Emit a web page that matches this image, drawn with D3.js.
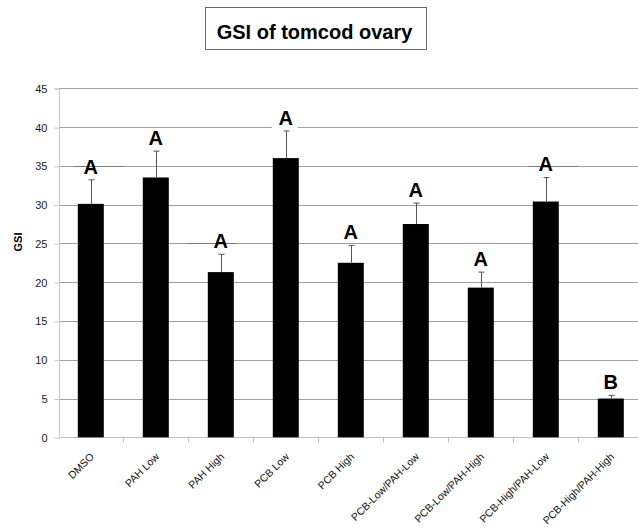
<!DOCTYPE html>
<html>
<head>
<meta charset="utf-8">
<script src="https://cdn.jsdelivr.net/npm/d3@7"></script>
<style>
  html, body { margin: 0; padding: 0; background: #fff; }
  svg { display: block; font-family: "Liberation Sans", Arial, sans-serif; }
</style>
</head>
<body>
<svg id="chart" width="638" height="530"></svg>
<script>
// Gonadosomatic index of tomcod ovary by treatment group
const categories = ["DMSO", "PAH Low", "PAH High", "PCB Low", "PCB High",
  "PCB-Low/PAH-Low", "PCB-Low/PAH-High", "PCB-High/PAH-Low", "PCB-High/PAH-High"];
const gsiMean = [30.1, 33.5, 21.3, 36.0, 22.5, 27.5, 19.3, 30.4, 5.0];
const gsiError = [3.1, 3.4, 2.3, 3.5, 2.25, 2.7, 2.0, 3.1, 0.4];
const groupLetters = ["A", "A", "A", "A", "A", "A", "A", "A", "B"];
const yTicks = [0, 5, 10, 15, 20, 25, 30, 35, 40, 45];
const chartTitle = "GSI of tomcod ovary";
const yTitle = "GSI";

const svg = d3.select("#chart");

const x = d3.scaleBand().domain(categories).range([58.3, 643.3]).paddingInner(0.6).paddingOuter(0.3);
const band = d3.scaleBand().domain(categories).range([58.3, 643.3]);
const y = d3.scaleLinear().domain([0, 45]).range([437.3, 88.3]);

// Title box
const titleG = svg.append("g");
titleG.append("rect")
  .attr("x", 205.5).attr("y", 7.5).attr("width", 221).attr("height", 42)
  .attr("fill", "#fff").attr("stroke", "#6a6a6a").attr("stroke-width", 1);
titleG.append("text")
  .attr("x", 314.5).attr("y", 39)
  .attr("text-anchor", "middle")
  .attr("font-size", 20).attr("font-weight", "bold").attr("fill", "#000")
  .text(chartTitle);

// Horizontal gridlines
svg.append("g")
  .selectAll("line")
  .data(yTicks.filter(d => d > 0))
  .join("line")
  .attr("x1", 59).attr("x2", 638)
  .attr("y1", d => Math.round(y(d)) + 0.5).attr("y2", d => Math.round(y(d)) + 0.5)
  .attr("stroke", "#a0a0a0").attr("stroke-width", 1);

// Y axis
const yAxis = d3.axisLeft(y).tickValues(yTicks).tickSize(5).tickPadding(7)
  .tickFormat(d3.format("d"));
const yG = svg.append("g").attr("transform", "translate(59.5,0.5)").call(yAxis);
yG.select(".domain").attr("stroke", "#c8c8c8").attr("d", `M-5,${y(45)}H0V${y(0)}`);
yG.selectAll(".tick line").attr("stroke", "#c8c8c8");
yG.selectAll(".tick text").attr("font-size", 11).attr("fill", "#222")
  .attr("font-family", "Liberation Sans, Arial, sans-serif");

// Y axis title
svg.append("text")
  .attr("transform", "translate(22,242) rotate(-90)")
  .attr("text-anchor", "middle")
  .attr("font-size", 11).attr("font-weight", "bold").attr("fill", "#000")
  .text(yTitle);

// X axis baseline and boundary ticks
const xAxis = d3.axisBottom(band).tickSize(0).tickFormat("");
const xG = svg.append("g").attr("transform", `translate(0,${Math.round(y(0)) + 0.5})`).call(xAxis);
xG.select(".domain").attr("stroke", "#c0c0c0").attr("d", "M59,0H638");
xG.selectAll(".tick").remove();
xG.selectAll("line.boundary")
  .data(categories.slice(1))
  .join("line")
  .attr("class", "boundary")
  .attr("x1", d => Math.round(band(d)) + 0.5).attr("x2", d => Math.round(band(d)) + 0.5)
  .attr("y1", 0).attr("y2", 5)
  .attr("stroke", "#c0c0c0");

// Category labels, slanted at 45 degrees
const labelG = svg.append("g")
  .selectAll("g")
  .data(categories)
  .join("g")
  .attr("transform", d => `translate(${band(d) + band.bandwidth() / 2 + 4},${y(0) + 20})`);
labelG.append("text")
  .attr("transform", "rotate(-45)")
  .attr("text-anchor", "end")
  .attr("font-size", 10.5).attr("fill", "#111")
  .text(d => d);

// Bars
svg.append("g")
  .selectAll("rect")
  .data(categories)
  .join("rect")
  .attr("x", d => x(d))
  .attr("width", x.bandwidth())
  .attr("y", (d, i) => y(gsiMean[i]))
  .attr("height", (d, i) => y(0) - y(gsiMean[i]))
  .attr("fill", "#000");

// Error bars (upper)
const errG = svg.append("g").attr("stroke", "#555").attr("stroke-width", 1);
categories.forEach((c, i) => {
  const cx = Math.round(x(c) + x.bandwidth() / 2) + 0.5;
  const top = y(gsiMean[i] + gsiError[i]);
  errG.append("line").attr("x1", cx).attr("x2", cx)
    .attr("y1", y(gsiMean[i])).attr("y2", top);
  errG.append("line").attr("x1", cx - 3).attr("x2", cx + 3)
    .attr("y1", top).attr("y2", top);
});

// Label underlines and masks where letters sit on gridlines
const labelRules = [
  { i: 0, v: 35, dx0: -17, dx1: 33, kind: "rule" },
  { i: 2, v: 25, dx0: -34, dx1: 17, kind: "rule" },
  { i: 7, v: 35, dx0: -18, dx1: 32, kind: "rule" },
  { i: 3, v: 40, dx0: -14, dx1: 12, kind: "mask" }
];
labelRules.forEach(r => {
  const cx = band(categories[r.i]) + band.bandwidth() / 2;
  const yy = Math.round(y(r.v)) + 0.5;
  svg.append("line")
    .attr("x1", cx + r.dx0).attr("x2", cx + r.dx1)
    .attr("y1", yy).attr("y2", yy)
    .attr("stroke", r.kind === "rule" ? "#7a7a7a" : "#fff")
    .attr("stroke-width", r.kind === "rule" ? 1 : 2);
});

// Significance group letters
svg.append("g")
  .selectAll("text")
  .data(categories)
  .join("text")
  .attr("x", d => x(d) + x.bandwidth() / 2)
  .attr("y", (d, i) => y(gsiMean[i] + gsiError[i]) - 6)
  .attr("text-anchor", "middle")
  .attr("font-size", 20).attr("font-weight", "bold").attr("fill", "#000")
  .text((d, i) => groupLetters[i]);
</script>
</body>
</html>
